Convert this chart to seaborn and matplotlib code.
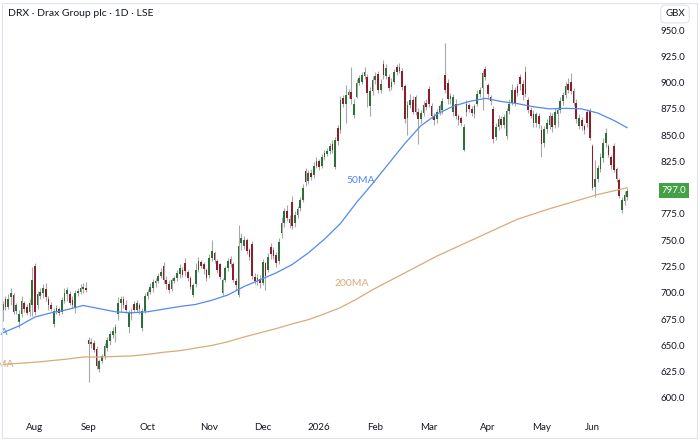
import numpy as np
import pandas as pd
import seaborn as sns
import matplotlib.pyplot as plt
from matplotlib.patches import Rectangle

# LSE sessions on the chart: weekdays minus UK bank holidays
uk_holidays = ['2025-08-25', '2025-12-25', '2025-12-26', '2026-01-01',
               '2026-04-03', '2026-04-06', '2026-05-04', '2026-05-25']
sessions = pd.bdate_range('2025-07-16', '2026-06-18', freq='C', holidays=uk_holidays)

# daily OHLC (GBX)
opens = [
    684, 694, 687, 696, 698, 683, 672, 680, 690, 687,
    682, 688, 726, 688, 697, 700, 704, 694, 688, 670,
    682, 685, 682, 692, 699, 699, 693, 686, 700, 701,
    704, 705, 655, 651, 652, 647, 628, 635, 640, 648,
    654, 660, 662, 680, 690, 694, 688, 668, 680, 689,
    684, 688, 667, 683, 697, 701, 705, 709, 711, 716,
    726, 712, 708, 704, 711, 714, 718, 722, 728, 720,
    714, 698, 708, 722, 729, 727, 722, 717, 733, 738,
    730, 727, 700, 712, 724, 732, 727, 711, 698, 747,
    745, 750, 741, 746, 715, 711, 713, 709, 728, 722,
    744, 741, 736, 730, 757, 766, 778, 766, 786, 766,
    774, 781, 788, 816, 806, 814, 812, 821, 825, 821,
    829, 832, 835, 842, 820, 857, 855, 885, 880, 888,
    891, 869, 886, 900, 901, 906, 905, 878, 892, 902,
    908, 893, 918, 906, 905, 896, 901, 915, 911, 911,
    897, 866, 879, 883, 886, 872, 865, 871, 881, 894,
    878, 868, 865, 872, 874, 907, 900, 884, 872, 880,
    868, 866, 836, 872, 879, 875, 870, 880, 889, 895,
    913, 898, 886, 875, 848, 858, 865, 860, 849, 873,
    881, 893, 897, 905, 899, 910, 883, 874, 870, 862,
    868, 855, 843, 856, 860, 868, 860, 870, 874, 882,
    888, 899, 901, 892, 881, 859, 864, 859, 872, 873,
    840, 801, 808, 818, 828, 843, 840, 829, 840, 818,
    807, 779, 787, 791,
]
highs = [
    692, 697, 699, 705, 700, 690, 684, 697, 692, 689,
    694, 725, 728, 702, 705, 708, 709, 697, 691, 686,
    688, 687, 696, 705, 706, 702, 697, 703, 705, 708,
    709, 710, 658, 657, 655, 649, 637, 642, 652, 658,
    664, 668, 670, 696, 697, 697, 693, 684, 686, 692,
    693, 690, 686, 700, 704, 709, 713, 714, 719, 724,
    729, 716, 712, 714, 716, 722, 727, 725, 733, 722,
    716, 709, 728, 734, 731, 729, 724, 737, 750, 740,
    732, 728, 714, 726, 733, 735, 729, 714, 765, 757,
    754, 752, 743, 749, 719, 718, 717, 732, 729, 738,
    747, 744, 739, 752, 772, 781, 784, 774, 792, 778,
    783, 791, 804, 819, 817, 818, 824, 829, 827, 832,
    836, 838, 843, 845, 848, 860, 887, 888, 898, 894,
    915, 884, 903, 907, 910, 915, 908, 896, 906, 910,
    911, 903, 921, 918, 908, 904, 913, 918, 919, 914,
    899, 882, 889, 887, 888, 876, 874, 882, 884, 897,
    881, 871, 875, 880, 885, 938, 903, 890, 889, 884,
    870, 868, 861, 883, 881, 878, 880, 893, 896, 912,
    916, 900, 888, 878, 862, 869, 868, 870, 876, 884,
    899, 896, 900, 908, 902, 916, 886, 877, 874, 872,
    871, 860, 859, 865, 872, 871, 876, 877, 886, 891,
    901, 904, 909, 895, 884, 870, 867, 861, 875, 876,
    842, 826, 822, 833, 847, 857, 842, 831, 843, 820,
    809, 791, 797, 800,
]
lows = [
    673, 684, 685, 688, 680, 680, 667, 677, 682, 679,
    678, 678, 679, 685, 694, 695, 692, 684, 683, 668,
    680, 679, 680, 690, 692, 688, 686, 681, 697, 699,
    700, 701, 615, 648, 644, 628, 625, 633, 637, 645,
    650, 657, 653, 674, 682, 686, 681, 662, 674, 682,
    682, 680, 664, 681, 694, 699, 701, 706, 709, 714,
    709, 704, 700, 702, 709, 711, 714, 715, 716, 711,
    704, 696, 706, 720, 724, 718, 711, 714, 730, 728,
    719, 713, 698, 710, 721, 725, 710, 703, 696, 741,
    742, 737, 731, 713, 708, 707, 705, 707, 703, 720,
    732, 732, 725, 727, 752, 763, 768, 762, 761, 763,
    771, 778, 786, 802, 804, 807, 809, 819, 817, 819,
    826, 830, 832, 833, 818, 841, 852, 877, 862, 885,
    880, 866, 885, 898, 899, 903, 877, 868, 888, 899,
    890, 890, 903, 903, 892, 893, 899, 907, 909, 893,
    862, 850, 876, 870, 869, 842, 862, 868, 874, 877,
    865, 860, 862, 869, 870, 890, 880, 880, 868, 865,
    860, 859, 835, 868, 872, 868, 866, 878, 886, 874,
    902, 885, 879, 843, 845, 855, 857, 857, 846, 870,
    879, 878, 887, 893, 883, 886, 871, 866, 858, 858,
    857, 829, 839, 852, 856, 853, 857, 858, 871, 879,
    885, 890, 889, 878, 862, 856, 855, 851, 858, 845,
    798, 791, 805, 815, 824, 839, 829, 818, 815, 805,
    790, 776, 784, 788,
]
closes = [
    689, 687, 694, 700, 682, 688, 680, 692, 685, 681,
    690, 712, 682, 699, 701, 705, 696, 688, 685, 683,
    686, 681, 693, 700, 703, 690, 688, 700, 702, 705,
    706, 703, 651, 653, 646, 630, 635, 640, 649, 655,
    661, 664, 668, 690, 694, 688, 684, 681, 682, 684,
    690, 685, 683, 697, 701, 706, 710, 711, 716, 720,
    712, 708, 703, 712, 714, 719, 724, 717, 721, 714,
    706, 707, 722, 730, 726, 723, 714, 733, 740, 731,
    722, 715, 712, 724, 730, 727, 712, 707, 745, 752,
    750, 740, 734, 716, 711, 714, 709, 729, 716, 734,
    737, 735, 728, 748, 766, 778, 771, 770, 764, 774,
    780, 788, 800, 805, 814, 810, 821, 825, 820, 829,
    833, 835, 840, 836, 845, 844, 883, 880, 888, 891,
    884, 880, 900, 904, 907, 910, 890, 892, 902, 906,
    893, 899, 907, 914, 895, 901, 910, 910, 915, 896,
    865, 879, 883, 872, 872, 865, 871, 879, 877, 880,
    868, 864, 872, 878, 882, 893, 884, 887, 886, 868,
    864, 862, 858, 880, 875, 871, 878, 889, 893, 909,
    905, 889, 882, 846, 858, 865, 860, 867, 873, 880,
    893, 881, 890, 899, 888, 889, 874, 868, 862, 870,
    861, 842, 856, 862, 868, 858, 872, 874, 882, 888,
    897, 893, 892, 881, 865, 866, 859, 855, 862, 847,
    800, 808, 819, 829, 843, 852, 831, 822, 817, 808,
    792, 788, 793, 797,
]

# moving averages every 6th session, plus the last one
ma50 = [662, 668.5, 677, 681, 684, 688, 685, 682, 681, 682,
        684.5, 687, 689, 693, 698, 706, 712.5, 719, 727, 738,
        751, 766, 786, 804, 823, 842, 859, 870, 877.5, 882,
        885, 882, 880, 877, 875, 875.5, 875, 871, 864, 857]
ma200 = [632, 633, 634, 635.5, 637, 639, 639, 639.5, 640, 641.5,
         643.5, 645, 647.5, 650, 653.5, 658, 662, 666, 670.5, 674.5,
         680, 686, 694, 703, 711, 719, 727, 735, 742, 749,
         756, 763, 770, 775, 780, 784.5, 789, 793.5, 797, 800]

last_price = 797.0


def main():
    sns.set_theme(style="white")
    plt.rcParams['font.family'] = ['Lato', 'DejaVu Sans']

    df = pd.DataFrame({'date': sessions, 'open': opens, 'high': highs,
                       'low': lows, 'close': closes})
    df['bar'] = np.arange(len(df))
    ma_bar = list(range(0, len(df), 6)) + [len(df) - 1]

    fig = plt.figure(figsize=(7, 4.42), dpi=100)
    ax = fig.add_axes([0, 30 / 442, 648 / 700, 390 / 442])

    green, red, wick = '#2f6e38', '#8c1f2e', '#a9a9a9'
    blue, tan = '#5289f2', '#d9ab78'

    # candles: gray wicks, coloured bodies
    up = df['close'] >= df['open']
    ax.vlines(df['bar'], df['low'], df['high'], color=wick, lw=0.8, zorder=2)
    body = (df['close'] - df['open']).abs().clip(lower=0.8)
    ax.bar(df['bar'], body, bottom=df[['open', 'close']].min(axis=1), width=0.62,
           color=np.where(up, green, red), lw=0, zorder=3)

    # moving averages
    sns.lineplot(x=ma_bar, y=ma50, ax=ax, color=blue, lw=0.9, zorder=4)
    sns.lineplot(x=ma_bar, y=ma200, ax=ax, color=tan, lw=0.9, zorder=4)
    ax.text(133.7, 807, '50MA', color=blue, fontsize=7.5, ha='center', va='center')
    ax.text(130.3, 709, '200MA', color=tan, fontsize=7.5, ha='center', va='center')
    # labels cut off at the left edge
    ax.text(2.0, 662, '50MA', color=blue, fontsize=7.5, ha='right', va='center', clip_on=True)
    ax.text(4.0, 632, '200MA', color=tan, fontsize=7.5, ha='right', va='center', clip_on=True)

    ax.set_xlim(-2.8 / 2.68, (648 - 2.8) / 2.68)
    ax.set_ylim(600 - 14 / 1.0514, 950 + 8 / 1.0514)

    # month labels at the first session of each month
    months = df.groupby(df['date'].dt.to_period('M'))['bar'].min().iloc[1:]
    ax.set_xticks(months.values)
    ax.set_xticklabels([str(p.year) if p.month == 1 else p.strftime('%b') for p in months.index])

    # price scale on the right; the 800 level is covered by the last-price badge
    ax.yaxis.tick_right()
    yt = np.arange(600, 951, 25)
    ax.set_yticks(yt)
    ax.set_yticklabels(['' if v == 800 else f'{v:.1f}' for v in yt])
    ax.tick_params(axis='y', length=0, pad=9, labelsize=7, labelcolor='#131722')
    ax.tick_params(axis='x', length=0, pad=8, labelsize=7, labelcolor='#131722')
    ax.grid(False)
    sns.despine(ax=ax, left=True, bottom=True, right=True, top=True)

    # last price badge
    ax.text(674 / 648, last_price, f'{last_price:.1f}', transform=ax.get_yaxis_transform(),
            ha='center', va='center', fontsize=7, color='white',
            bbox=dict(boxstyle='square,pad=0.3', fc='#43a047', ec='none'))

    fig.text(8 / 700, 1 - 13 / 442, 'DRX · Drax Group plc · 1D · LSE', fontsize=7.5,
             va='center', color='#131722')
    fig.text(675 / 700, 1 - 14 / 442, 'GBX', fontsize=7, ha='center', va='center', color='#131722',
             bbox=dict(boxstyle='round,pad=0.45', fc='white', ec='#e0e3eb', lw=0.8))
    fig.add_artist(Rectangle((2 / 700, 4 / 442), 695 / 700, 435 / 442, transform=fig.transFigure,
                             fill=False, ec='#e0e3eb', lw=0.8))

    fig.savefig('out.png', dpi=100)


if __name__ == "__main__":
    main()
